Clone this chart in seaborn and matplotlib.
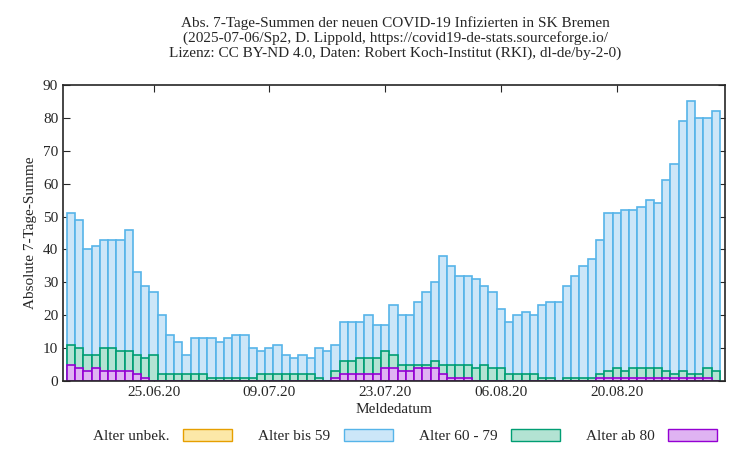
import numpy as np
import pandas as pd
import seaborn as sns
import matplotlib
matplotlib.use("Agg")
import matplotlib.pyplot as plt
from matplotlib.patches import Patch

dates = pd.date_range("2020-06-15", "2020-09-01", freq="D")
total = [51,49,40,41,43,43,43,46,33,29,27,20,14,12,8,13,13,13,12,13,14,14,10,9,10,11,8,7,8,7,
         10,9,11,18,18,18,20,17,17,23,20,20,24,27,30,38,35,32,32,31,29,27,22,18,20,21,20,23,24,24,
         29,32,35,37,43,51,51,52,52,53,55,54,61,66,79,85,80,80,82]
age60plus = [11,10,8,8,10,10,9,9,8,7,8,2,2,2,2,2,2,1,1,1,1,1,1,2,2,2,2,2,2,2,
             1,0,3,6,6,7,7,7,9,8,5,5,5,5,6,5,5,5,5,4,5,4,4,2,2,2,2,1,1,0,
             1,1,1,1,2,3,4,3,4,4,4,4,3,2,3,2,2,4,3]
age80plus = [5,4,3,4,3,3,3,3,2,1,0,0,0,0,0,0,0,0,0,0,0,0,0,0,0,0,0,0,0,0,
             0,0,1,2,2,2,2,2,4,4,3,3,4,4,4,2,1,1,1,0,0,0,0,0,0,0,0,0,0,0,
             0,0,0,0,1,1,1,1,1,1,1,1,1,1,1,1,1,1,0]
tick_labels = ["25.06.20", "09.07.20", "23.07.20", "06.08.20", "20.08.20"]
tick_dates = pd.to_datetime(["2020-06-25", "2020-07-09", "2020-07-23", "2020-08-06", "2020-08-20"])

sns.set_style("ticks")
plt.rcParams['font.family'] = ['Liberation Serif', 'DejaVu Serif']

df = pd.DataFrame({"idx": np.arange(len(dates)), "total": total,
                   "g60": age60plus, "g80": age80plus})

fig = plt.figure(figsize=(7.5, 4.5), dpi=100)
ax = fig.add_axes([63/750, 1-381/450, (725-63)/750, (381-85)/450])

layers = [("total", "#cce6f8", "#56b4e9"), ("g60", "#b3e3d3", "#009e73"), ("g80", "#dfb3f2", "#9400d3")]
for col, fc, ec in layers:
    sns.barplot(data=df, x="idx", y=col, color=fc, edgecolor=ec, linewidth=1.2,
                width=1, saturation=1, ax=ax, native_scale=True, zorder=2)

ax.set_xlim(-0.95, 79.1)
ax.set_ylim(0, 90)
ax.set_yticks(range(0, 91, 10))
tpos = [(d - dates[0]).days for d in tick_dates]
ax.set_xticks(tpos)
ax.set_xticklabels(tick_labels)
ax.tick_params(direction="in", top=True, right=True, labelsize=11, length=5)
for s in ax.spines.values():
    s.set_visible(True)
    s.set_linewidth(1.2)
ax.set_xlabel("Meldedatum", fontsize=11, labelpad=3)
ax.set_ylabel("Absolute 7-Tage-Summe", fontsize=11)
fig.text(0.527, 1-16/450, "Abs. 7-Tage-Summen der neuen COVID-19 Infizierten in SK Bremen\n"
         "(2025-07-06/Sp2, D. Lippold, https://covid19-de-stats.sourceforge.io/\n"
         "Lizenz: CC BY-ND 4.0, Daten: Robert Koch-Institut (RKI), dl-de/by-2-0)",
         ha="center", va="top", fontsize=11, linespacing=1.15)

handles = [Patch(facecolor="#fce8a8", edgecolor="#e69f00", label="Alter unbek."),
           Patch(facecolor="#cce6f8", edgecolor="#56b4e9", label="Alter bis 59"),
           Patch(facecolor="#b3e3d3", edgecolor="#009e73", label="Alter 60 - 79"),
           Patch(facecolor="#dfb3f2", edgecolor="#9400d3", label="Alter ab 80")]
fig.legend(handles=handles, loc="center", bbox_to_anchor=(0.54, 1-436/450), ncol=4,
           markerfirst=False, frameon=False, fontsize=11, handlelength=3.2,
           handleheight=0.8, columnspacing=1.7, handletextpad=0.9)

fig.savefig("out.png", dpi=100)
